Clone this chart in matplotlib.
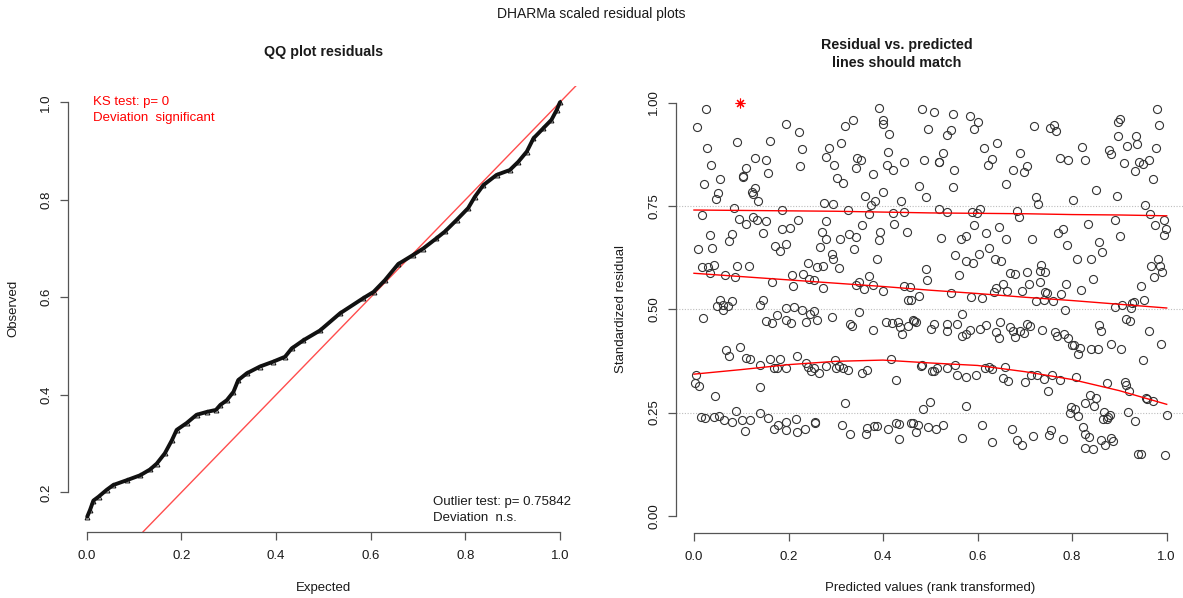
import numpy as np
import matplotlib
matplotlib.use("Agg")
from matplotlib import pyplot as plt

plt.rcParams['font.family'] = ['Liberation Sans', 'DejaVu Sans']

# QQ plot: expected vs observed uniform quantiles of the scaled residuals
qq_expected = [0.001, 0.007, 0.014, 0.025, 0.042, 0.056, 0.085, 0.113, 0.134, 0.148,
               0.165, 0.180, 0.190, 0.211, 0.232, 0.254, 0.273, 0.282, 0.296, 0.310,
               0.320, 0.338, 0.366, 0.394, 0.419, 0.433, 0.458, 0.493, 0.535, 0.584,
               0.606, 0.630, 0.658, 0.690, 0.711, 0.739, 0.757, 0.782, 0.806, 0.820,
               0.838, 0.866, 0.894, 0.912, 0.930, 0.944, 0.965, 0.982, 0.993, 1.000]
qq_observed = [0.150, 0.164, 0.183, 0.191, 0.205, 0.215, 0.225, 0.235, 0.247, 0.259,
               0.280, 0.307, 0.328, 0.342, 0.359, 0.365, 0.369, 0.379, 0.389, 0.406,
               0.430, 0.444, 0.458, 0.468, 0.478, 0.495, 0.512, 0.532, 0.567, 0.598,
               0.611, 0.635, 0.668, 0.687, 0.700, 0.721, 0.735, 0.759, 0.783, 0.806,
               0.830, 0.851, 0.861, 0.878, 0.899, 0.926, 0.947, 0.964, 0.984, 1.000]

ks_text = ["KS test: p= 0", "Deviation  significant"]
outlier_text = ["Outlier test: p= 0.75842", "Deviation  n.s."]

# residual vs predicted (rank transformed): (predicted, residual)
resid_pts = [
    (0.025, 0.985), (0.006, 0.940), (0.392, 0.987), (0.483, 0.985), (0.336, 0.958), (0.399, 0.958),
    (0.399, 0.947), (0.320, 0.944), (0.195, 0.947), (0.222, 0.929), (0.495, 0.935), (0.413, 0.924),
    (0.092, 0.905), (0.160, 0.906), (0.311, 0.902), (0.028, 0.890), (0.229, 0.888), (0.286, 0.890),
    (0.411, 0.880), (0.280, 0.869), (0.130, 0.866), (0.152, 0.860), (0.344, 0.866), (0.354, 0.861),
    (0.487, 0.860), (0.036, 0.848), (0.111, 0.841), (0.225, 0.846), (0.296, 0.848), (0.343, 0.841),
    (0.408, 0.848), (0.422, 0.837), (0.445, 0.855), (0.157, 0.829), (0.379, 0.826), (0.104, 0.822),
    (0.104, 0.819), (0.056, 0.815), (0.303, 0.817), (0.316, 0.805), (0.021, 0.803), (0.476, 0.797),
    (0.130, 0.794), (0.051, 0.781), (0.122, 0.783), (0.125, 0.779), (0.400, 0.783), (0.361, 0.773),
    (0.046, 0.766), (0.135, 0.763), (0.491, 0.771), (0.384, 0.762), (0.276, 0.757), (0.295, 0.755),
    (0.374, 0.751), (0.439, 0.762), (0.084, 0.744), (0.186, 0.739), (0.325, 0.741), (0.017, 0.728),
    (0.370, 0.731), (0.420, 0.734), (0.445, 0.736), (0.095, 0.718), (0.125, 0.722), (0.133, 0.715),
    (0.111, 0.706), (0.152, 0.713), (0.221, 0.717), (0.280, 0.713), (0.356, 0.703), (0.424, 0.705),
    (0.186, 0.693), (0.204, 0.697), (0.271, 0.687), (0.147, 0.684), (0.080, 0.681), (0.033, 0.679),
    (0.329, 0.681), (0.343, 0.675), (0.394, 0.687), (0.451, 0.687), (0.280, 0.671), (0.309, 0.670),
    (0.391, 0.668), (0.075, 0.664), (0.195, 0.658), (0.171, 0.652), (0.181, 0.640), (0.008, 0.646),
    (0.038, 0.647), (0.266, 0.650), (0.338, 0.646), (0.291, 0.633), (0.294, 0.622), (0.387, 0.621),
    (0.241, 0.613), (0.016, 0.603), (0.030, 0.603), (0.042, 0.607), (0.033, 0.588), (0.092, 0.604),
    (0.116, 0.605), (0.261, 0.602), (0.272, 0.604), (0.306, 0.600), (0.490, 0.597), (0.066, 0.583),
    (0.086, 0.577), (0.208, 0.584), (0.231, 0.586), (0.243, 0.574), (0.253, 0.571), (0.370, 0.580),
    (0.492, 0.570), (0.165, 0.567), (0.210, 0.557), (0.272, 0.552), (0.343, 0.559), (0.350, 0.566),
    (0.360, 0.550), (0.378, 0.559), (0.399, 0.545), (0.445, 0.555), (0.456, 0.553), (0.056, 0.523),
    (0.049, 0.509), (0.061, 0.510), (0.062, 0.498), (0.071, 0.507), (0.080, 0.519), (0.140, 0.511),
    (0.145, 0.523), (0.195, 0.502), (0.212, 0.506), (0.229, 0.498), (0.253, 0.496), (0.475, 0.532),
    (0.452, 0.522), (0.459, 0.522), (0.350, 0.494), (0.175, 0.487), (0.245, 0.489), (0.292, 0.482),
    (0.508, 0.978), (0.547, 0.972), (0.583, 0.968), (0.600, 0.954), (0.593, 0.937), (0.543, 0.934),
    (0.535, 0.922), (0.720, 0.944), (0.753, 0.939), (0.762, 0.946), (0.765, 0.930), (0.980, 0.985),
    (0.902, 0.960), (0.898, 0.953), (0.984, 0.946), (0.897, 0.918), (0.936, 0.919), (0.937, 0.899),
    (0.917, 0.896), (0.978, 0.890), (0.642, 0.902), (0.613, 0.891), (0.820, 0.892), (0.878, 0.885),
    (0.883, 0.875), (0.527, 0.879), (0.690, 0.877), (0.519, 0.857), (0.519, 0.855), (0.630, 0.863),
    (0.621, 0.848), (0.774, 0.866), (0.792, 0.862), (0.827, 0.860), (0.909, 0.854), (0.942, 0.857),
    (0.950, 0.851), (0.962, 0.861), (0.934, 0.834), (0.550, 0.837), (0.675, 0.837), (0.705, 0.846),
    (0.698, 0.833), (0.971, 0.815), (0.660, 0.804), (0.547, 0.796), (0.851, 0.788), (0.894, 0.775),
    (0.723, 0.771), (0.728, 0.754), (0.801, 0.764), (0.954, 0.752), (0.519, 0.743), (0.535, 0.735),
    (0.588, 0.735), (0.598, 0.734), (0.606, 0.743), (0.683, 0.737), (0.687, 0.722), (0.965, 0.731),
    (0.890, 0.716), (0.994, 0.716), (0.976, 0.703), (0.999, 0.693), (0.994, 0.680), (0.833, 0.706),
    (0.593, 0.704), (0.645, 0.699), (0.618, 0.685), (0.770, 0.684), (0.780, 0.694), (0.901, 0.678),
    (0.523, 0.672), (0.565, 0.670), (0.575, 0.677), (0.660, 0.670), (0.715, 0.670), (0.789, 0.656),
    (0.857, 0.663), (0.864, 0.639), (0.624, 0.648), (0.553, 0.632), (0.576, 0.617), (0.590, 0.611),
    (0.603, 0.633), (0.636, 0.621), (0.650, 0.617), (0.810, 0.622), (0.840, 0.621), (0.982, 0.622),
    (0.967, 0.604), (0.986, 0.605), (0.990, 0.591), (0.974, 0.579), (0.560, 0.582), (0.669, 0.588),
    (0.679, 0.585), (0.705, 0.591), (0.731, 0.593), (0.743, 0.591), (0.734, 0.606), (0.731, 0.566),
    (0.844, 0.574), (0.654, 0.561), (0.709, 0.561), (0.787, 0.561), (0.638, 0.551), (0.634, 0.542),
    (0.663, 0.545), (0.694, 0.544), (0.743, 0.542), (0.747, 0.540), (0.777, 0.536), (0.818, 0.547),
    (0.945, 0.556), (0.543, 0.540), (0.586, 0.530), (0.610, 0.528), (0.723, 0.519), (0.740, 0.523),
    (0.759, 0.520), (0.951, 0.523), (0.906, 0.511), (0.891, 0.505), (0.927, 0.515), (0.930, 0.518),
    (0.925, 0.503), (0.784, 0.498), (0.566, 0.489),
    (0.019, 0.478), (0.152, 0.472), (0.166, 0.467), (0.195, 0.473), (0.205, 0.467), (0.236, 0.470),
    (0.261, 0.475), (0.330, 0.464), (0.334, 0.460), (0.379, 0.450), (0.406, 0.469), (0.418, 0.466),
    (0.431, 0.469), (0.436, 0.456), (0.440, 0.440), (0.452, 0.460), (0.464, 0.474), (0.466, 0.472),
    (0.470, 0.468), (0.067, 0.401), (0.075, 0.387), (0.098, 0.409), (0.111, 0.382), (0.118, 0.379),
    (0.140, 0.364), (0.160, 0.379), (0.181, 0.379), (0.169, 0.359), (0.176, 0.358), (0.195, 0.357),
    (0.217, 0.388), (0.236, 0.371), (0.241, 0.360), (0.248, 0.351), (0.253, 0.357), (0.265, 0.345),
    (0.280, 0.362), (0.299, 0.378), (0.300, 0.359), (0.306, 0.362), (0.316, 0.358), (0.325, 0.353),
    (0.356, 0.345), (0.367, 0.353), (0.416, 0.379), (0.427, 0.329), (0.480, 0.362), (0.482, 0.364),
    (0.004, 0.341), (0.002, 0.322), (0.011, 0.314), (0.044, 0.291), (0.140, 0.311), (0.320, 0.274),
    (0.485, 0.258), (0.014, 0.240), (0.024, 0.237), (0.042, 0.240), (0.053, 0.242), (0.063, 0.233),
    (0.080, 0.228), (0.089, 0.254), (0.101, 0.231), (0.108, 0.206), (0.119, 0.233), (0.140, 0.248),
    (0.157, 0.238), (0.169, 0.210), (0.178, 0.221), (0.195, 0.228), (0.195, 0.208), (0.215, 0.235),
    (0.218, 0.204), (0.234, 0.210), (0.257, 0.227), (0.257, 0.224), (0.313, 0.220), (0.330, 0.197),
    (0.363, 0.197), (0.367, 0.213), (0.380, 0.217), (0.387, 0.217), (0.411, 0.210), (0.427, 0.225),
    (0.434, 0.222), (0.433, 0.185), (0.459, 0.225), (0.464, 0.225), (0.469, 0.204), (0.473, 0.221),
    (0.495, 0.216),
    (0.502, 0.453), (0.508, 0.465), (0.535, 0.465), (0.535, 0.448), (0.557, 0.465), (0.566, 0.436),
    (0.576, 0.439), (0.583, 0.449), (0.605, 0.453), (0.618, 0.463), (0.639, 0.445), (0.645, 0.431),
    (0.648, 0.470), (0.668, 0.456), (0.675, 0.448), (0.679, 0.434), (0.690, 0.447), (0.698, 0.442),
    (0.704, 0.464), (0.711, 0.459), (0.737, 0.450), (0.764, 0.445), (0.768, 0.436), (0.783, 0.440),
    (0.792, 0.430), (0.799, 0.413), (0.804, 0.413), (0.817, 0.407), (0.813, 0.392), (0.840, 0.405),
    (0.854, 0.405), (0.857, 0.461), (0.861, 0.447), (0.883, 0.417), (0.904, 0.404), (0.914, 0.477),
    (0.923, 0.472), (0.962, 0.447), (0.987, 0.417), (0.950, 0.377), (0.504, 0.350), (0.508, 0.351),
    (0.515, 0.359), (0.535, 0.359), (0.553, 0.366), (0.557, 0.340), (0.576, 0.336), (0.596, 0.340),
    (0.615, 0.359), (0.624, 0.360), (0.631, 0.356), (0.657, 0.360), (0.654, 0.334), (0.665, 0.327),
    (0.701, 0.325), (0.714, 0.340), (0.726, 0.341), (0.740, 0.331), (0.758, 0.340), (0.774, 0.328),
    (0.749, 0.302), (0.808, 0.335), (0.873, 0.322), (0.911, 0.324), (0.913, 0.316), (0.921, 0.303),
    (0.957, 0.285), (0.958, 0.282), (0.971, 0.279), (0.500, 0.275), (0.576, 0.266), (0.837, 0.293),
    (0.851, 0.286), (0.827, 0.272), (0.847, 0.267), (0.797, 0.264), (0.806, 0.259), (0.795, 0.250),
    (0.813, 0.242), (0.868, 0.252), (0.880, 0.244), (0.876, 0.239), (0.865, 0.235), (0.873, 0.235),
    (0.919, 0.252), (0.932, 0.229), (1.000, 0.243), (0.511, 0.210), (0.526, 0.221), (0.566, 0.189),
    (0.609, 0.219), (0.630, 0.180), (0.672, 0.211), (0.683, 0.184), (0.694, 0.172), (0.717, 0.193),
    (0.752, 0.195), (0.755, 0.209), (0.780, 0.185), (0.822, 0.214), (0.827, 0.198), (0.835, 0.191),
    (0.827, 0.164), (0.844, 0.162), (0.861, 0.184), (0.870, 0.172), (0.883, 0.189), (0.887, 0.182),
    (0.940, 0.151), (0.946, 0.149), (0.997, 0.147),
]
outlier_pts = [(0.097, 1.0)]

# quantile regression curves (0.25 / 0.5 / 0.75)
quant_x = [0.0, 0.1, 0.2, 0.3, 0.4, 0.5, 0.6, 0.7, 0.8, 0.9, 1.0]
quant_25 = [0.343, 0.354, 0.366, 0.374, 0.377, 0.370, 0.364, 0.349, 0.330, 0.303, 0.270]
quant_50 = [0.587, 0.579, 0.571, 0.563, 0.555, 0.546, 0.538, 0.529, 0.521, 0.512, 0.503]
quant_75 = [0.740, 0.739, 0.738, 0.737, 0.735, 0.733, 0.732, 0.731, 0.729, 0.728, 0.726]
grid_levels = [0.25, 0.5, 0.75]

W, H = 1183, 598
AXC = '#555555'
TXT = '#1a1a1a'


def fx(px):
    return px / W


def fy(py):
    return 1 - py / H


def r_style(ax, xb, yb):
    """Open R-like axes: only left/bottom lines spanning the tick range."""
    for s in ['top', 'right']:
        ax.spines[s].set_visible(False)
    for s in ['left', 'bottom']:
        ax.spines[s].set_color(AXC)
        ax.spines[s].set_linewidth(0.9)
    ax.spines['bottom'].set_bounds(*xb)
    ax.spines['left'].set_bounds(*yb)
    ax.tick_params(direction='out', length=5.5, width=0.9, color=AXC,
                   labelsize=9.5, labelcolor=TXT)
    ax.tick_params(axis='x', pad=7)
    ax.tick_params(axis='y', pad=6, labelrotation=90)
    for lab in ax.get_yticklabels():
        lab.set_va('center')
    ax.patch.set_alpha(0)


fig = plt.figure(figsize=(W / 100, H / 100), dpi=100)

# left panel: QQ plot
ax1 = fig.add_axes([fx(68.3), fy(532.3), fx(578.9 - 68.3), (532.3 - 85.7) / H])
ax1.axline((0, 0), slope=1, color='#ff4d4d', lw=1.0, zorder=1)
ax1.plot(qq_expected, qq_observed, color='#111111', lw=2.8, solid_joinstyle='round',
         solid_capstyle='round', zorder=2)
ax1.plot(qq_expected, qq_observed, ls='none', marker='^', ms=3.5, mfc='none',
         mec='#111111', mew=0.7, zorder=3)
ax1.set_xlim(-0.039, 1.04)
ax1.set_ylim(0.118, 1.034)
ax1.set_xticks([0, 0.2, 0.4, 0.6, 0.8, 1.0])
ax1.set_xticklabels(['0.0', '0.2', '0.4', '0.6', '0.8', '1.0'])
ax1.set_yticks([0.2, 0.4, 0.6, 0.8, 1.0])
ax1.set_yticklabels(['0.2', '0.4', '0.6', '0.8', '1.0'])
r_style(ax1, (0, 1), (0.2, 1.0))

# right panel: residual vs predicted
ax2 = fig.add_axes([fx(676), fy(533.3), fx(1185.6 - 676), (533.3 - 86) / H])
for g in grid_levels:
    ax2.axhline(g, color='#bdbdbd', ls=(0, (1, 1.5)), lw=0.8, zorder=1)
px = np.array([p[0] for p in resid_pts])
py = np.array([p[1] for p in resid_pts])
ax2.plot(px, py, ls='none', marker='o', ms=5.8, mfc='none', mec='#333333',
         mew=0.8, zorder=2)
ax2.plot([p[0] for p in outlier_pts], [p[1] for p in outlier_pts], ls='none',
         marker=(8, 2, 0), ms=7, mec='red', mew=0.8, zorder=3)
for q in [quant_25, quant_50, quant_75]:
    ax2.plot(quant_x, q, color='red', lw=1.0, zorder=4)
ax2.set_xlim(-0.038, 1.04)
ax2.set_ylim(-0.042, 1.04)
ax2.set_xticks([0, 0.2, 0.4, 0.6, 0.8, 1.0])
ax2.set_xticklabels(['0.0', '0.2', '0.4', '0.6', '0.8', '1.0'])
ax2.set_yticks([0, 0.25, 0.5, 0.75, 1.0])
ax2.set_yticklabels(['0.00', '0.25', '0.50', '0.75', '1.00'])
r_style(ax2, (0, 1), (0, 1))

# titles and labels
fig.text(fx(591.5), fy(14), 'DHARMa scaled residual plots', ha='center', va='center',
         fontsize=10, color=TXT)
fig.text(fx(323.6), fy(52), 'QQ plot residuals', ha='center', va='center',
         fontsize=10.3, fontweight='bold', color=TXT)
fig.text(fx(897), fy(45), 'Residual vs. predicted', ha='center', va='center',
         fontsize=10.3, fontweight='bold', color=TXT)
fig.text(fx(897), fy(63), 'lines should match', ha='center', va='center',
         fontsize=10.3, fontweight='bold', color=TXT)
fig.text(fx(323.6), fy(588), 'Expected', ha='center', va='center', fontsize=9.5, color=TXT)
fig.text(fx(930), fy(588), 'Predicted values (rank transformed)', ha='center',
         va='center', fontsize=9.5, color=TXT)
fig.text(fx(13.5), fy(308), 'Observed', ha='center', va='center', rotation=90,
         fontsize=9.5, color=TXT)
fig.text(fx(621), fy(309), 'Standardized residual', ha='center', va='center',
         rotation=90, fontsize=9.5, color=TXT)

# test annotations in the QQ panel
fig.text(fx(92.7), fy(102.3), ks_text[0], ha='left', va='center', fontsize=9.5, color='red')
fig.text(fx(92.7), fy(118.3), ks_text[1], ha='left', va='center', fontsize=9.5, color='red')
fig.text(fx(433.3), fy(502.3), outlier_text[0], ha='left', va='center', fontsize=9.5, color=TXT)
fig.text(fx(433.3), fy(517.7), outlier_text[1], ha='left', va='center', fontsize=9.5, color=TXT)

fig.savefig('out.png', dpi=100)
